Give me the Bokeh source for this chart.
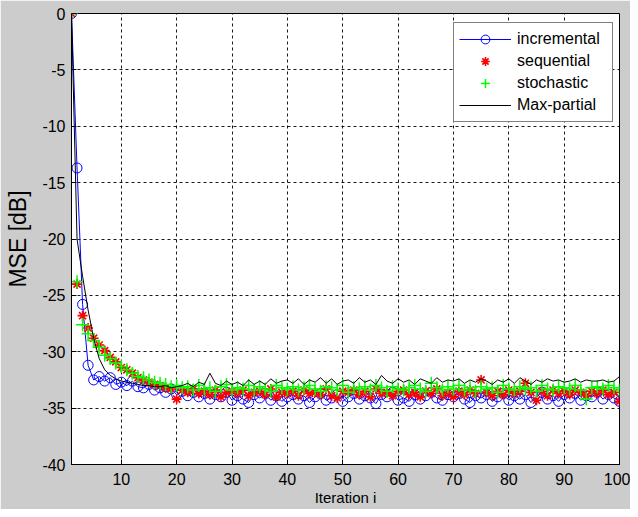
from bokeh.plotting import figure
from bokeh.models import Range1d, FixedTicker, Legend, LegendItem
from bokeh.embed import file_html
from bokeh.resources import INLINE

iterations = list(range(1, 101))

incremental = [
    0.0, -13.7, -25.8, -31.2, -32.5, -32.2, -32.6, -32.3, -32.9, -32.7,
    -33.0, -32.6, -33.1, -33.2, -32.9, -33.4, -33.2, -33.6, -33.3, -33.8,
    -33.5, -33.9, -33.6, -34.0, -33.7, -34.2, -33.8, -34.0, -33.6, -34.3,
    -33.9, -34.2, -34.5, -33.8, -34.1, -33.7, -34.3, -33.9, -34.4, -34.0,
    -33.8, -34.2, -33.9, -34.5, -34.0, -33.7, -34.3, -34.1, -33.8, -34.4,
    -34.0, -33.7, -34.2, -33.9, -34.1, -34.6, -33.8, -34.0, -33.6, -34.3,
    -34.1, -34.4, -33.8, -34.2, -33.9, -33.6, -34.1, -34.3, -33.8, -34.0,
    -33.7, -34.2, -34.5, -33.9, -34.1, -33.8, -34.4, -34.0, -33.7, -34.3,
    -33.9, -34.2, -33.8, -34.5, -34.0, -33.6, -34.2, -33.9, -34.4, -33.8,
    -34.1, -33.7, -34.3, -33.9, -34.0, -33.6, -34.2, -33.8, -34.1, -34.4,
]

sequential = [
    0.0, -24.0, -26.8, -27.9, -28.8, -29.4, -29.9, -30.5, -30.9, -31.4,
    -31.6, -31.9, -32.3, -32.5, -32.7, -32.9, -33.0, -33.2, -33.3, -34.2,
    -33.4, -33.6, -33.3, -33.7, -33.5, -33.8, -33.4, -34.0, -33.6, -33.5,
    -33.7, -33.4, -33.9, -33.6, -33.5, -33.8, -33.3, -34.0, -33.6, -33.7,
    -33.5, -33.9, -33.4, -33.7, -33.6, -33.8, -33.3, -33.9, -34.1, -33.5,
    -33.6, -33.4, -33.8, -33.5, -34.0, -33.3, -33.7, -33.6, -33.9, -33.5,
    -33.4, -33.8, -33.6, -34.0, -33.5, -33.7, -33.3, -33.9, -33.6, -34.0,
    -33.5, -33.8, -33.4, -33.7, -32.5, -33.6, -33.9, -33.5, -33.8, -33.4,
    -33.7, -33.5, -32.8, -33.6, -34.3, -33.5, -33.9, -33.4, -33.7, -33.5,
    -33.8, -33.4, -33.6, -33.9, -33.5, -33.7, -33.4, -33.8, -33.6, -34.4,
]

stochastic = [
    0.0, -23.8, -27.6, -28.4, -29.0, -29.6, -30.3, -30.6, -31.0, -31.3,
    -31.6, -31.9, -32.2, -32.3, -32.5, -32.7, -32.8, -32.9, -33.1, -33.0,
    -33.2, -33.1, -33.4, -33.0, -33.3, -33.2, -33.5, -33.1, -32.9, -33.4,
    -33.2, -33.3, -33.0, -33.4, -33.1, -33.3, -33.5, -33.0, -33.2, -33.3,
    -33.1, -33.4, -33.2, -33.0, -33.3, -33.5, -33.1, -33.2, -33.4, -33.0,
    -33.6, -33.2, -33.3, -33.1, -33.4, -33.0, -33.2, -33.5, -33.1, -33.3,
    -33.4, -33.2, -33.0, -33.3, -33.5, -32.8, -33.2, -33.4, -33.1, -33.3,
    -33.0, -33.4, -33.2, -33.5, -33.1, -33.3, -33.2, -33.6, -33.0, -33.3,
    -33.4, -33.1, -33.3, -33.2, -33.5, -33.0, -33.3, -33.4, -33.1, -33.2,
    -33.3, -33.0, -33.4, -34.2, -33.2, -33.1, -33.3, -33.0, -33.2, -33.4,
]

max_partial = [
    0.0, -20.0, -23.3, -26.3, -28.8, -30.6, -31.6, -32.1, -32.4, -32.6,
    -32.7, -32.8, -32.9, -33.0, -33.0, -33.1, -33.1, -33.0, -33.2, -33.1,
    -33.0, -32.8, -33.1, -32.7, -32.9, -31.9, -32.8, -33.0, -32.6, -32.9,
    -32.7, -33.0, -32.5, -32.9, -32.6, -32.9, -32.4, -32.8, -32.6, -32.5,
    -32.8, -32.4, -32.9, -32.5, -32.7, -32.3, -32.8, -32.4, -32.9, -32.6,
    -32.5, -32.8, -32.3, -32.7, -32.5, -32.9, -32.1, -32.6, -32.8, -32.4,
    -32.7, -32.5, -32.9, -32.4, -32.6, -32.8, -32.3, -32.7, -32.5, -32.6,
    -32.4, -32.8, -32.5, -32.7, -32.4, -32.6, -32.9, -32.5, -32.7, -32.4,
    -32.8, -32.3, -32.6, -32.9, -32.5, -32.7, -32.4, -32.6, -32.5, -32.7,
    -32.6, -32.4, -32.7, -32.5, -32.6, -32.6, -32.5, -32.7, -32.6, -32.2,
]

series_names = ["incremental", "sequential", "stochastic", "Max-partial"]
x_ticks = [10, 20, 30, 40, 50, 60, 70, 80, 90, 100]
y_ticks = [0, -5, -10, -15, -20, -25, -30, -35, -40]
y_tick_labels = ["0", "-5", "-10", "-15", "-20", "-25", "-30", "-35", "-40"]
x_label = "Iteration i"
y_label = "MSE [dB]"

FONT = "Liberation Sans"

p = figure(width=630, height=509, output_backend="svg", toolbar_location=None,
           x_range=Range1d(1, 100), y_range=Range1d(-40, 0),
           min_border_left=71, min_border_right=11, min_border_top=13,
           min_border_bottom=45)
p.border_fill_color = "#cccccc"
p.background_fill_color = "white"
p.outline_line_color = "black"
p.outline_line_width = 1

for ax in (p.xaxis[0], p.yaxis[0]):
    ax.major_tick_in = 5
    ax.major_tick_out = 0
    ax.minor_tick_line_color = None
    ax.axis_line_color = "black"
    ax.major_tick_line_color = "black"
    ax.major_label_text_font = FONT
    ax.major_label_text_font_size = "16px"
    ax.major_label_text_color = "black"
    ax.axis_label_text_font = FONT
    ax.axis_label_text_font_style = "normal"
    ax.axis_label_text_color = "black"

p.xaxis.ticker = FixedTicker(ticks=x_ticks)
p.yaxis.ticker = FixedTicker(ticks=y_ticks)
p.yaxis.major_label_overrides = {t: l for t, l in zip(y_ticks, y_tick_labels)}
p.xaxis.major_label_overrides = {t: str(t) for t in x_ticks}
p.xaxis.axis_label = x_label
p.yaxis.axis_label = y_label
p.xaxis.axis_label_text_font_size = "15px"
p.yaxis.axis_label_text_font_size = "23px"
p.xaxis.major_label_standoff = 8
p.xaxis.axis_label_standoff = 1
p.yaxis.major_label_standoff = 6
p.yaxis.axis_label_standoff = 8

for g in (p.xgrid[0], p.ygrid[0]):
    g.grid_line_color = "black"
    g.grid_line_dash = "3 3"
    g.grid_line_width = 1
    g.grid_line_alpha = 0.9

r_inc_line = p.line(iterations, incremental, line_color="#0000ff", line_width=1)
r_inc_pts = p.scatter(iterations, incremental, marker="circle", size=10,
                      line_color="#0000ff", fill_color=None, line_width=1)
r_seq = p.scatter(iterations, sequential, marker="asterisk", size=10,
                  line_color="#ff0000", line_width=1.6)
r_sto = p.scatter(iterations, stochastic, marker="cross", size=13,
                  line_color="#00ff00", line_width=1.5)
r_max = p.line(iterations, max_partial, line_color="black", line_width=1)

legend = Legend(items=[
    LegendItem(label=series_names[0], renderers=[r_inc_line, r_inc_pts]),
    LegendItem(label=series_names[1], renderers=[r_seq]),
    LegendItem(label=series_names[2], renderers=[r_sto]),
    LegendItem(label=series_names[3], renderers=[r_max]),
], location=(382, 342))
legend.label_text_font = FONT
legend.label_text_font_size = "16px"
legend.label_text_color = "black"
legend.border_line_color = "black"
legend.border_line_width = 1
legend.background_fill_color = "white"
legend.background_fill_alpha = 1
legend.padding = 5
legend.margin = 0
legend.spacing = 0
legend.glyph_width = 52
legend.glyph_height = 22
legend.label_height = 22
legend.label_width = 90
legend.label_standoff = 6
p.add_layout(legend, "center")

open("out.html", "w").write(file_html(p, INLINE))
